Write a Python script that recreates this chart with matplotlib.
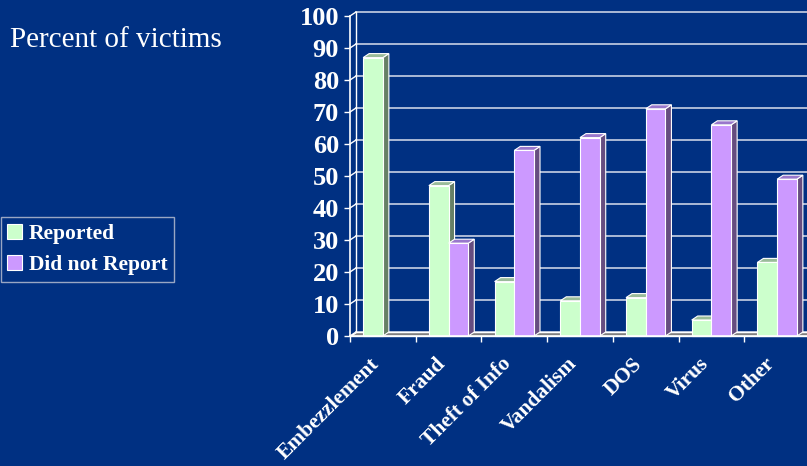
import matplotlib
matplotlib.use("Agg")
import matplotlib.pyplot as plt
from matplotlib.patches import Polygon, Patch
from matplotlib.transforms import ScaledTranslation

categories = ["Embezzlement", "Fraud", "Theft of Info", "Vandalism", "DOS", "Virus", "Other"]
reported = [87, 47, 17, 11, 12, 5, 23]
not_reported = [0, 29, 58, 62, 71, 66, 49]
yticks = list(range(0, 101, 10))

bg = "#003082"
grid_c = "#c8d0e4"
series = [
    ("Reported", reported, "#ccffcc", "#99bb99", "#668066"),
    ("Did not Report", not_reported, "#cc99ff", "#9977cc", "#664d80"),
]

fig = plt.figure(figsize=(8.07, 4.66), dpi=100, facecolor=bg)
ax = fig.add_axes([350 / 807, 130 / 466, 460 / 807, 320 / 466])
ax.set_facecolor(bg)
n = len(categories)
ax.set_xlim(-0.5, n - 0.5)
ax.set_ylim(0, 100)

# depth offset of the fake 3d effect (data units)
dx, dy = 6 / 65.7, 4 / 3.2
x0, x1 = -0.5, n - 0.5

# back wall grid + left wall
for v in yticks:
    ax.plot([x0 + dx, x1 + 1], [v + dy, v + dy], color=grid_c, lw=1.2, clip_on=False, zorder=1)
    ax.plot([x0, x0 + dx], [v, v + dy], color="white", lw=1, clip_on=False, zorder=1)
ax.plot([x0 + dx, x0 + dx], [dy, 100 + dy], color="white", lw=1, clip_on=False, zorder=1)

# floor
ax.add_patch(Polygon([(x0, 0), (x1 + 1, 0), (x1 + 1, dy), (x0 + dx, dy)],
                     closed=True, facecolor="#808080", edgecolor="white", lw=1,
                     clip_on=False, zorder=2))

w = 0.3
for k, (name, vals, face, top, side) in enumerate(series):
    for i, v in enumerate(vals):
        if v == 0:
            continue
        xl = i - w + k * w
        xr = xl + w
        z = 3 + k
        ax.add_patch(Polygon([(xr, 0), (xr + dx, dy), (xr + dx, v + dy), (xr, v)],
                             facecolor=side, edgecolor="white", lw=0.8, zorder=z, clip_on=False))
        ax.add_patch(Polygon([(xl, v), (xl + dx, v + dy), (xr + dx, v + dy), (xr, v)],
                             facecolor=top, edgecolor="white", lw=0.8, zorder=z, clip_on=False))
        ax.add_patch(Polygon([(xl, 0), (xr, 0), (xr, v), (xl, v)],
                             facecolor=face, edgecolor="white", lw=0.8, zorder=z, clip_on=False))

for s in ["top", "right"]:
    ax.spines[s].set_visible(False)
for s in ["left", "bottom"]:
    ax.spines[s].set_color("white")
    ax.spines[s].set_linewidth(1.2)
    ax.spines[s].set_zorder(6)

ax.set_yticks(yticks)
ax.set_yticklabels([str(v) for v in yticks], fontfamily="Liberation Serif",
                   fontweight="bold", fontsize=19, color="white")
ax.tick_params(axis="y", colors="white", length=4, width=1, pad=4)

ax.set_xticks([i - 0.5 for i in range(n + 1)])
ax.set_xticklabels([])
ax.set_xticks(range(n), minor=True)
ax.set_xticklabels(categories, minor=True, rotation=45, ha="right", va="top",
                   fontfamily="Liberation Serif", fontweight="bold", fontsize=15.5, color="white")
ax.tick_params(axis="x", which="major", colors="white", length=4, width=1)
ax.tick_params(axis="x", which="minor", length=0, pad=13)
for lab in ax.get_xticklabels(minor=True):
    lab.set_transform(lab.get_transform() + ScaledTranslation(1 / 100, 0, fig.dpi_scale_trans))

fig.text(10 / 807, 1 - 40 / 466, "Percent of victims", ha="left", va="center",
         fontfamily="Liberation Serif", fontsize=21, color="white")

handles = [Patch(facecolor=s[2], edgecolor="white", lw=0.8, label=s[0]) for s in series]
leg = fig.legend(handles=handles, loc="upper left", bbox_to_anchor=(0.5 / 807, 1 - 217 / 466),
                 frameon=True, fancybox=False, facecolor=bg, edgecolor="#c0c4d4",
                 handlelength=0.7, handleheight=0.7, handletextpad=0.3,
                 borderpad=0.32, labelspacing=0.5, borderaxespad=0,
                 prop={"family": "Liberation Serif", "weight": "bold", "size": 15.5})
for t in leg.get_texts():
    t.set_color("white")

fig.savefig("out.png", dpi=100, facecolor=bg)
